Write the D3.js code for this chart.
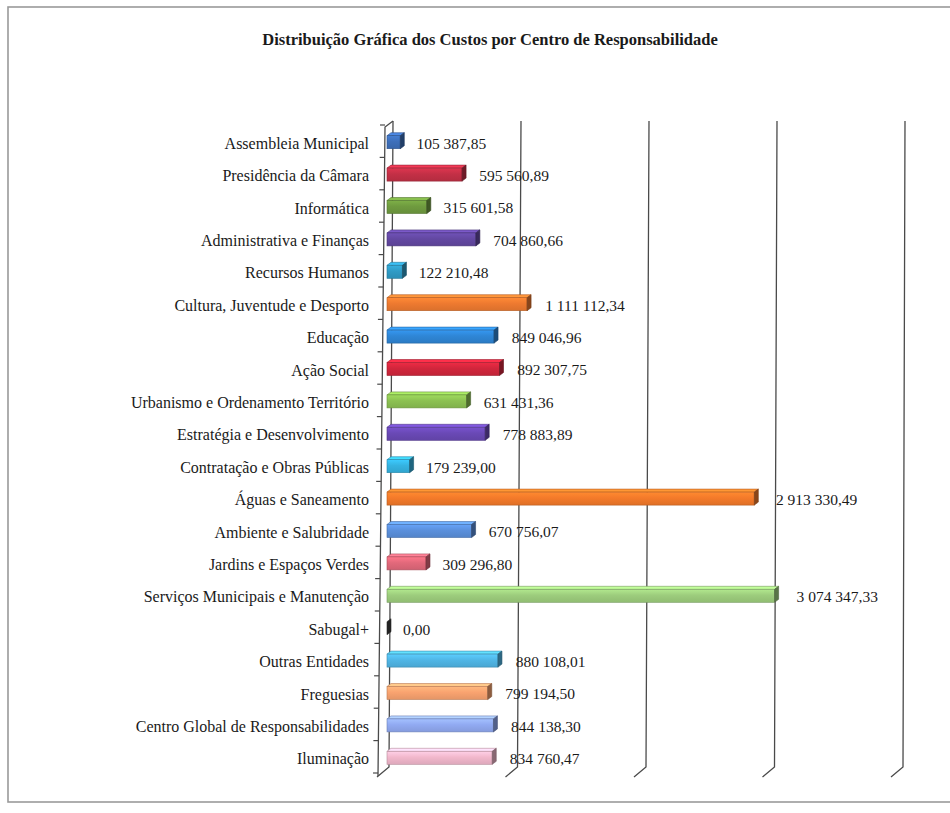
<!DOCTYPE html>
<html>
<head>
<meta charset="utf-8">
<script src="https://cdn.jsdelivr.net/npm/d3@7"></script>
<style>
  html, body { margin: 0; padding: 0; background: #fff; }
  svg { display: block; }
</style>
</head>
<body>
<svg id="chart" width="950" height="813"></svg>
<script>
const title = "Distribuição Gráfica dos Custos por Centro de Responsabilidade";

const categories = [
  "Assembleia Municipal",
  "Presidência da Câmara",
  "Informática",
  "Administrativa e Finanças",
  "Recursos Humanos",
  "Cultura, Juventude e Desporto",
  "Educação",
  "Ação Social",
  "Urbanismo e Ordenamento Território",
  "Estratégia e Desenvolvimento",
  "Contratação e Obras Públicas",
  "Águas e Saneamento",
  "Ambiente e Salubridade",
  "Jardins e Espaços Verdes",
  "Serviços Municipais e Manutenção",
  "Sabugal+",
  "Outras Entidades",
  "Freguesias",
  "Centro Global de Responsabilidades",
  "Iluminação"
];

const values = [
  105387.85, 595560.89, 315601.58, 704860.66, 122210.48,
  1111112.34, 849046.96, 892307.75, 631431.36, 778883.89,
  179239.00, 2913330.49, 670756.07, 309296.80, 3074347.33,
  0.00, 880108.01, 799194.50, 844138.30, 834760.47
];

const colors = [
  "#3d6fba", "#c43046", "#6f9b3f", "#6348a2", "#2f9bc6",
  "#ee7a30", "#2f86d6", "#d2263c", "#8cc152", "#6a49b6",
  "#35b3e1", "#f47a2a", "#5b90dc", "#e2697b", "#9dcd7d",
  "#555555", "#50b6e6", "#f9a370", "#91aaf2", "#f2b8cc"
];

const gridTicks = [0, 1000000, 2000000, 3000000, 4000000];

const FONT = "'Liberation Serif', 'Tinos', 'DejaVu Serif', 'Times New Roman', serif";

const svg = d3.select("#chart")
  .attr("font-family", FONT);

// frame
svg.append("rect")
  .attr("x", 8).attr("y", 7).attr("width", 950).attr("height", 795)
  .attr("fill", "none").attr("stroke", "#9a9a9a").attr("stroke-width", 1.6);

// title
svg.append("text")
  .attr("x", 490).attr("y", 45)
  .attr("text-anchor", "middle")
  .attr("font-family", FONT)
  .attr("font-weight", "bold")
  .attr("font-size", 16.5)
  .attr("fill", "#1a1a1a")
  .text(title);

// scales: back wall (top / bottom) for slight perspective
const xTop = d3.scaleLinear().domain([0, 4000000]).range([393, 905]);
const xBot = d3.scaleLinear().domain([0, 4000000]).range([389, 903]);
const yTopWall = 121, yBotWall = 767;
const depthDx = -12, depthDy = 10;

const y = d3.scaleBand().domain(categories).range([125, 773]).paddingInner(0).paddingOuter(0);

const gGrid = svg.append("g").attr("stroke", "#4a4a4a").attr("stroke-width", 1.3).attr("fill", "none");

// back-wall gridlines with floor feet
gridTicks.forEach(v => {
  const xt = xTop(v), xb = xBot(v);
  gGrid.append("path")
    .attr("d", `M${xt},${yTopWall} L${xb},${yBotWall} L${xb + depthDx},${yBotWall + depthDy}`);
});

// front axis with top connector
const axTop = [385, 127], axBot = [378, 776];
gGrid.append("path")
  .attr("d", `M${xTop(0)},${yTopWall} L${axTop[0]},${axTop[1]} L${axBot[0]},${axBot[1]}`);

// tick marks on front axis at category boundaries
const axX = yy => axTop[0] + (axBot[0] - axTop[0]) * (yy - axTop[1]) / (axBot[1] - axTop[1]);
const boundaries = d3.range(categories.length + 1).map(i => y.range()[0] + i * y.step());
svg.append("g").selectAll("line").data(boundaries).join("line")
  .attr("x1", d => axX(d)).attr("x2", d => axX(d) - 5)
  .attr("y1", d => d).attr("y2", d => d)
  .attr("stroke", "#4a4a4a").attr("stroke-width", 1.2);

// gradient defs
const defs = svg.append("defs");
colors.forEach((c, i) => {
  const gr = defs.append("linearGradient").attr("id", "g" + i)
    .attr("x1", 0).attr("y1", 0).attr("x2", 0).attr("y2", 1);
  gr.append("stop").attr("offset", "0%").attr("stop-color", d3.color(c).brighter(0.35));
  gr.append("stop").attr("offset", "45%").attr("stop-color", c);
  gr.append("stop").attr("offset", "100%").attr("stop-color", d3.color(c).darker(0.25));
});

// bars (3D: front face + top face + end cap)
const barH = 13, capDx = 4, capDy = -3, frontOff = -6;
const bars = svg.append("g");
categories.forEach((cat, i) => {
  const v = values[i];
  const cy = y(cat) + y.step() / 2;
  const x0 = xTop(0) + frontOff;
  const x1 = xTop(0) + (xTop(v) - xTop(0)) * 0.985 + frontOff;
  const yt = cy - barH / 2 + 1, yb = cy + barH / 2 + 1;
  const c = d3.color(colors[i]);
  const g = bars.append("g");
  if (v > 0) {
    g.append("path")
      .attr("d", `M${x0},${yt} L${x0 + capDx},${yt + capDy} L${x1 + capDx},${yt + capDy} L${x1},${yt} Z`)
      .attr("fill", c.brighter(0.6)).attr("stroke", c.darker(0.8)).attr("stroke-width", 0.6);
    g.append("rect")
      .attr("x", x0).attr("y", yt).attr("width", x1 - x0).attr("height", yb - yt)
      .attr("fill", `url(#g${i})`).attr("stroke", c.darker(0.8)).attr("stroke-width", 0.6);
  }
  g.append("path")
    .attr("d", `M${x1},${yt} L${x1 + capDx},${yt + capDy} L${x1 + capDx},${yb + capDy} L${x1},${yb} Z`)
    .attr("fill", v > 0 ? c.darker(1.6) : "#222").attr("stroke", c.darker(2)).attr("stroke-width", 0.6);
});

// value labels
const fmt = d3.formatLocale({ decimal: ",", thousands: " ", grouping: [3], currency: ["", ""] }).format(",.2f");
svg.append("g").selectAll("text").data(categories).join("text")
  .attr("x", (d, i) => xTop(values[i]) + 10)
  .attr("y", d => y(d) + y.step() / 2 + 2)
  .attr("dy", "0.35em")
  .attr("font-family", FONT)
  .attr("font-size", 15.5)
  .attr("fill", "#1a1a1a")
  .text((d, i) => fmt(values[i]));

// category labels
svg.append("g").selectAll("text").data(categories).join("text")
  .attr("x", 369)
  .attr("y", d => y(d) + y.step() / 2 + 2)
  .attr("dy", "0.35em")
  .attr("text-anchor", "end")
  .attr("font-family", FONT)
  .attr("font-size", 16)
  .attr("fill", "#1a1a1a")
  .text(d => d);
</script>
</body>
</html>
